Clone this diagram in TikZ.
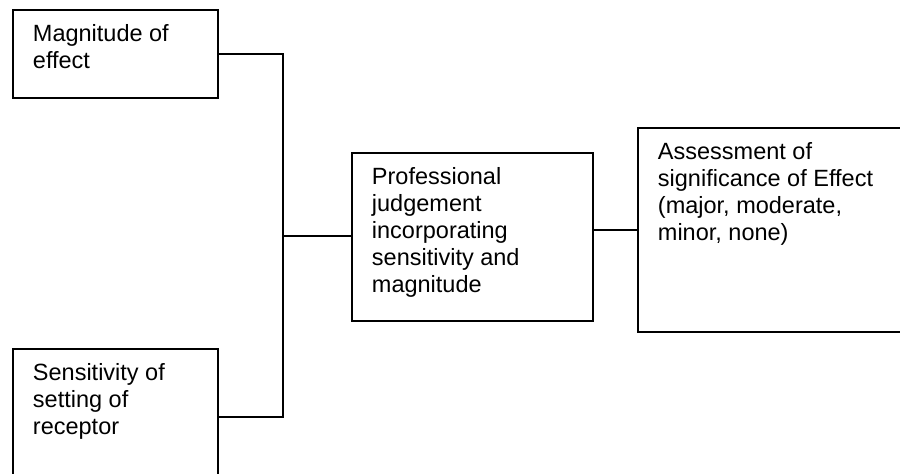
\documentclass[tikz,border=0pt]{standalone}
\usepackage{fontspec}
\setmainfont{Liberation Sans}
\usepackage{tikz}
\tikzset{cell/.style={draw,line width=1.9pt,anchor=north west,inner xsep=20pt,inner ysep=0pt,font=\fontsize{23.5}{27}\selectfont}}
\tikzset{wire/.style={line width=1.9pt}}
\newcommand{\celltext}[3]{\vbox to #2{\hsize=#1\parindent=0pt\vskip15pt\raggedright #3\par\vfill}}

\begin{document}
\begin{tikzpicture}[x=1pt,y=-1pt]
    \useasboundingbox (0,0) rectangle (900,474);
    \clip (0,0) rectangle (900,474);

    \node[cell] (mag) at (12,9) {\celltext{165pt}{88pt}{Magnitude of\\effect}};
    \node[cell] (sens) at (12,348) {\celltext{165pt}{136pt}{Sensitivity of\\setting of\\receptor}};
    \node[cell] (prof) at (351,152) {\celltext{201pt}{168pt}{Professional\\judgement\\incorporating\\sensitivity and\\magnitude}};
    \node[cell] (assess) at (637,127) {\celltext{243pt}{204pt}{Assessment of\\significance of Effect\\(major, moderate,\\minor, none)}};

    \coordinate (join) at (283,236);

    \draw[wire] (mag.east) -| (join) |- (sens.east);
    \draw[wire] (join) -- (join -| prof.west);
    \draw[wire] (assess.west) -- (assess.west -| prof.east);
\end{tikzpicture}
\end{document}
